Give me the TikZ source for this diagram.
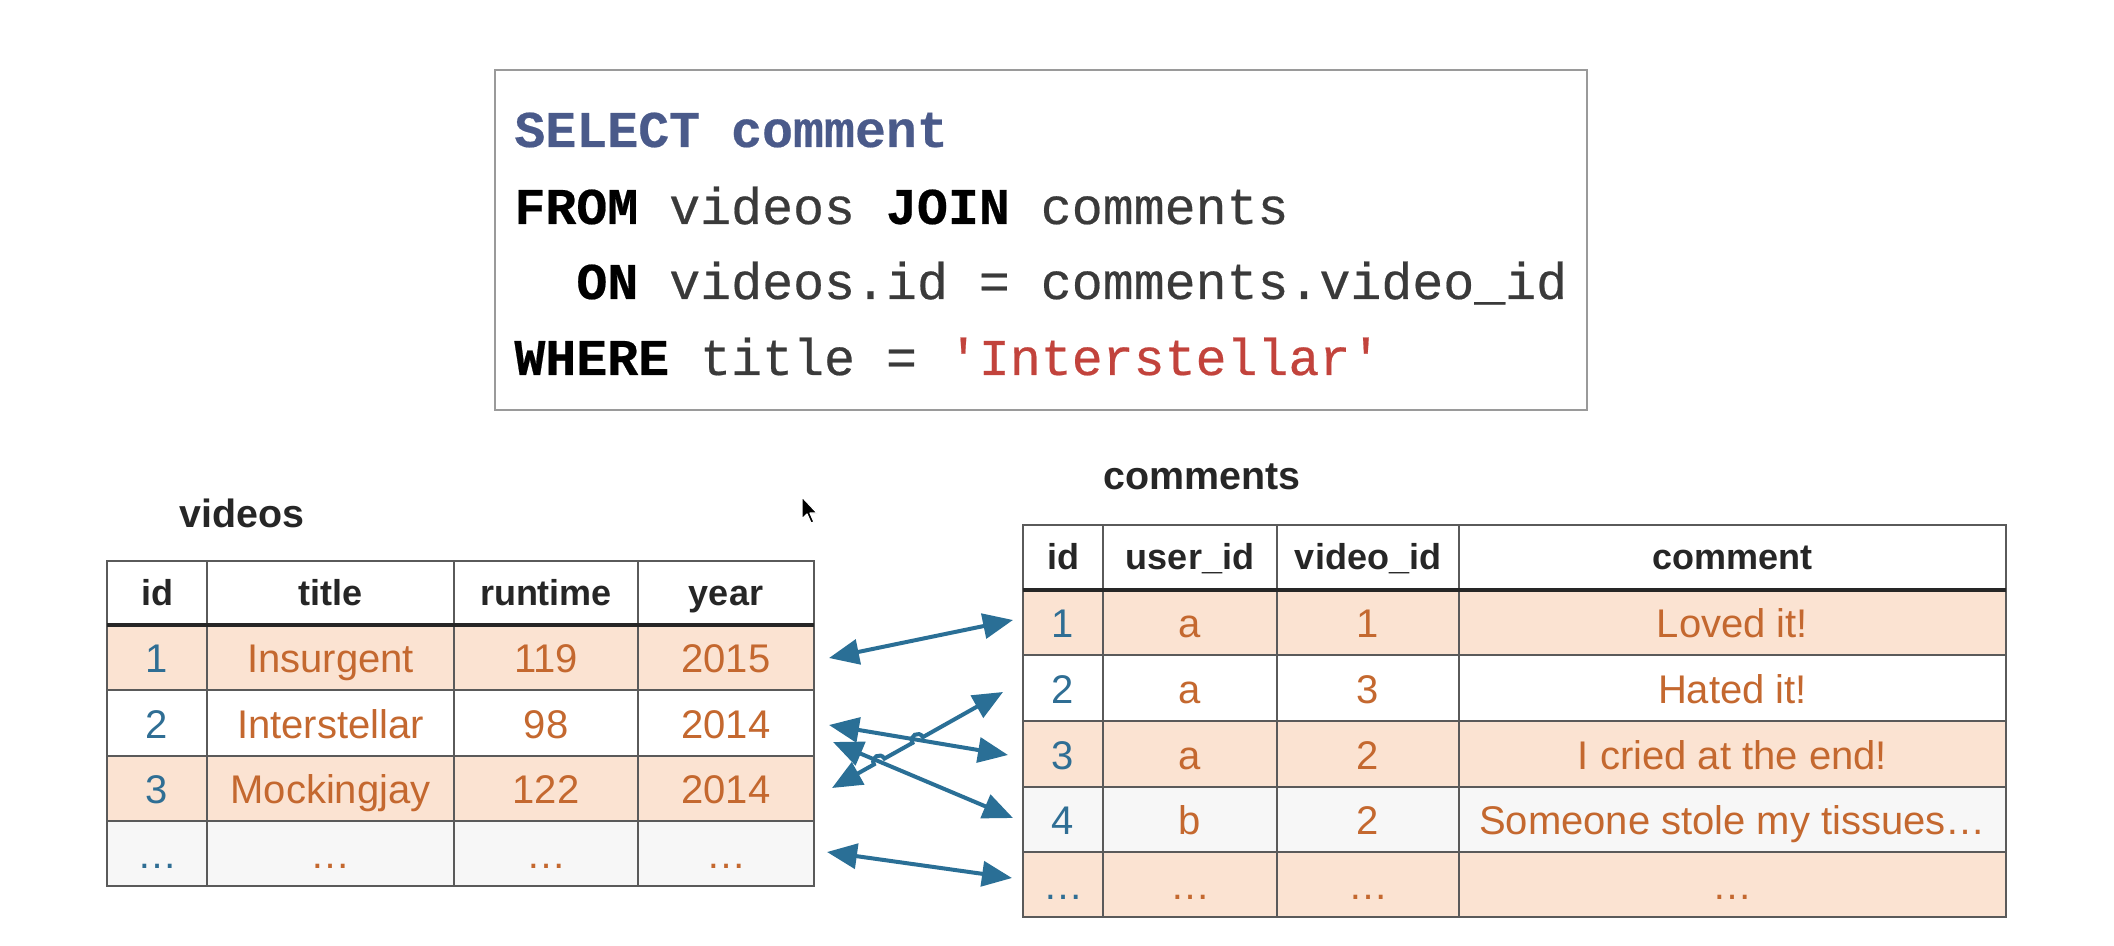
\documentclass[tikz,border=0pt]{standalone}
\usepackage{fontspec}
\setmainfont{Liberation Sans}
\newfontfamily\sqlfont{Liberation Mono}[FakeBold=0.4]
\usetikzlibrary{arrows.meta,calc}
\definecolor{peach}{HTML}{FBE3D2}
\definecolor{lightrow}{HTML}{F7F7F7}
\definecolor{txtorange}{HTML}{C4682F}
\definecolor{txtblue}{HTML}{2F6E94}
\definecolor{arrowblue}{HTML}{2A6F96}
\definecolor{gridline}{HTML}{5A5A5A}
\definecolor{headtxt}{HTML}{262626}
\definecolor{sqlblue}{HTML}{4A5A8A}
\definecolor{sqlgray}{HTML}{3A3A3A}
\definecolor{sqlred}{HTML}{C2433C}
\definecolor{boxgray}{HTML}{9A9A9A}
\tikzset{
  cell/.style={draw=gridline, line width=1pt, inner sep=0pt, outer sep=0pt,
    text height=15pt, text depth=0pt, font=\fontsize{20}{24}\selectfont,
    text=txtorange},
  hdr/.style={fill=white, text=headtxt, text height=12pt,
    font=\fontsize{18}{22}\selectfont\bfseries},
  idcol/.style={text=txtblue},
  rowpeach/.style={fill=peach},
  rowwhite/.style={fill=white},
  rowgray/.style={fill=lightrow},
  headline/.style={draw=headtxt, line width=2pt},
  tabtitle/.style={anchor=base west, inner sep=0pt, text=headtxt,
    font=\fontsize{19.7}{24}\selectfont\bfseries},
  sqlline/.style={anchor=base west, inner sep=0pt, text=sqlgray,
    font=\fontsize{25.8}{30}\sqlfont},
  sqlbox/.style={draw=boxgray, line width=1pt, fill=white},
  joinarrow/.style={draw=arrowblue, line width=2pt,
    {Triangle[length=15pt,width=12.5pt]}-{Triangle[length=15pt,width=12.5pt]}},
}
\newcommand\mycell[7]{\node[cell,#6,minimum width=#4pt,minimum height=#5pt] (#1) at (#2,#3) {#7};}
\begin{document}
\begin{tikzpicture}[x=0.5pt,y=-0.5pt]
\fill[white] (0,0) rectangle (2114,946);
\useasboundingbox (0,0) rectangle (2114,946);

% SQL box
\node[sqlbox, minimum width=546pt, minimum height=170pt] (sql) at (1041,240) {};
\node[sqlline] (l1) at (514,147) {\bfseries\color{sqlblue}SELECT comment};
\node[sqlline] (l2) at (514,224) {{\bfseries\color{black}FROM} videos {\bfseries\color{black}JOIN} comments};
\node[sqlline] (l3) at (576,299) {{\bfseries\color{black}ON} videos.id = comments.video\_id};
\node[sqlline] (l4) at (514,375) {{\bfseries\color{black}WHERE} title = {\color{sqlred}'Interstellar'}};

% titles
\node[tabtitle] (vt) at (179,527) {videos};
\node[tabtitle] (ct) at (1103,489) {comments};

% videos table
\mycell{vh1}{157}{593}{50}{32}{hdr}{id}
\mycell{vh2}{330.5}{593}{123.5}{32}{hdr}{title}
\mycell{vh3}{546}{593}{92}{32}{hdr}{runtime}
\mycell{vh4}{726}{593}{88}{32}{hdr}{year}

\mycell{va1}{157}{657.5}{50}{32.5}{rowpeach,idcol}{1}
\mycell{va2}{330.5}{657.5}{123.5}{32.5}{rowpeach}{Insurgent}
\mycell{va3}{546}{657.5}{92}{32.5}{rowpeach}{119}
\mycell{va4}{726}{657.5}{88}{32.5}{rowpeach}{2015}

\mycell{vb1}{157}{723}{50}{33}{rowwhite,idcol}{2}
\mycell{vb2}{330.5}{723}{123.5}{33}{rowwhite}{Interstellar}
\mycell{vb3}{546}{723}{92}{33}{rowwhite}{98}
\mycell{vb4}{726}{723}{88}{33}{rowwhite}{2014}

\mycell{vc1}{157}{788.5}{50}{32.5}{rowpeach,idcol}{3}
\mycell{vc2}{330.5}{788.5}{123.5}{32.5}{rowpeach}{Mockingjay}
\mycell{vc3}{546}{788.5}{92}{32.5}{rowpeach}{122}
\mycell{vc4}{726}{788.5}{88}{32.5}{rowpeach}{2014}

\mycell{vd1}{157}{853.5}{50}{32.5}{rowgray,idcol}{…}
\mycell{vd2}{330.5}{853.5}{123.5}{32.5}{rowgray}{…}
\mycell{vd3}{546}{853.5}{92}{32.5}{rowgray}{…}
\mycell{vd4}{726}{853.5}{88}{32.5}{rowgray}{…}

\draw[headline] (vh1.south west) -- (vh4.south east);

% comments table
\mycell{ch1}{1063}{557.5}{40}{32.5}{hdr}{id}
\mycell{ch2}{1190}{557.5}{87}{32.5}{hdr}{user\_id}
\mycell{ch3}{1368}{557.5}{91}{32.5}{hdr}{video\_id}
\mycell{ch4}{1732.5}{557.5}{273.5}{32.5}{hdr}{comment}

\mycell{ca1}{1063}{622.5}{40}{32.5}{rowpeach,idcol}{1}
\mycell{ca2}{1190}{622.5}{87}{32.5}{rowpeach}{a}
\mycell{ca3}{1368}{622.5}{91}{32.5}{rowpeach}{1}
\mycell{ca4}{1732.5}{622.5}{273.5}{32.5}{rowpeach}{Loved it!}

\mycell{cb1}{1063}{688}{40}{33}{rowwhite,idcol}{2}
\mycell{cb2}{1190}{688}{87}{33}{rowwhite}{a}
\mycell{cb3}{1368}{688}{91}{33}{rowwhite}{3}
\mycell{cb4}{1732.5}{688}{273.5}{33}{rowwhite}{Hated it!}

\mycell{cc1}{1063}{754}{40}{33}{rowpeach,idcol}{3}
\mycell{cc2}{1190}{754}{87}{33}{rowpeach}{a}
\mycell{cc3}{1368}{754}{91}{33}{rowpeach}{2}
\mycell{cc4}{1732.5}{754}{273.5}{33}{rowpeach}{I cried at the end!}

\mycell{cd1}{1063}{819.5}{40}{32.5}{rowgray,idcol}{4}
\mycell{cd2}{1190}{819.5}{87}{32.5}{rowgray}{b}
\mycell{cd3}{1368}{819.5}{91}{32.5}{rowgray}{2}
\mycell{cd4}{1732.5}{819.5}{273.5}{32.5}{rowgray}{Someone stole my tissues…}

\mycell{ce1}{1063}{884.5}{40}{32.5}{rowpeach,idcol}{…}
\mycell{ce2}{1190}{884.5}{87}{32.5}{rowpeach}{…}
\mycell{ce3}{1368}{884.5}{91}{32.5}{rowpeach}{…}
\mycell{ce4}{1732.5}{884.5}{273.5}{32.5}{rowpeach}{…}

\draw[headline] (ch1.south west) -- (ch4.south east);

% connector end points
\coordinate (a1l) at (829,658);  \coordinate (a1r) at (1013,620);
\coordinate (a2l) at (829,725);  \coordinate (a2r) at (1008,755);
\coordinate (a3l) at (833,742);  \coordinate (a3r) at (1013,818);
\coordinate (a4l) at (832,788);  \coordinate (a4r) at (1003,692);
\coordinate (a5l) at (827,852);  \coordinate (a5r) at (1012,878);
% hops on connector 4
\coordinate (h1s) at (874.0,764.4); \coordinate (h1e) at (884.4,758.6);
\coordinate (h1a) at (870.1,757.4); \coordinate (h1b) at (880.5,751.6);
\coordinate (h2s) at (912.5,742.9); \coordinate (h2e) at (922.9,737.1);
\coordinate (h2a) at (908.6,735.9); \coordinate (h2b) at (919.0,730.1);

\draw[joinarrow] (a1l) -- (a1r);
\draw[joinarrow] (a2l) -- (a2r);
\draw[joinarrow] (a3l) -- (a3r);
\draw[joinarrow] (a4l) -- (h1s) .. controls (h1a) and (h1b) .. (h1e)
  -- (h2s) .. controls (h2a) and (h2b) .. (h2e) -- (a4r);
\draw[joinarrow] (a5l) -- (a5r);

% mouse pointer
\filldraw[fill=black, draw=white, line width=0.6pt, line join=round]
  (802,497) -- (802,519) -- (807,514) -- (811,523) -- (814,522) -- (810,513) -- (817,513) -- cycle;
\end{tikzpicture}
\end{document}
